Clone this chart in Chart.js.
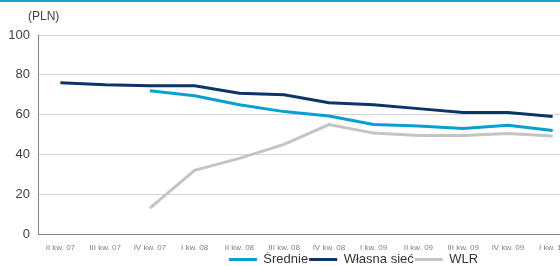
<!DOCTYPE html>
<html>
<head>
<meta charset="utf-8">
<script src="https://cdn.jsdelivr.net/npm/chart.js@4"></script>
<style>
  html, body { margin: 0; padding: 0; background: #fff; overflow: hidden; width: 560px; height: 266px; }
  #topline { position: absolute; left: 0; top: 0; width: 560px; height: 2px; background: #1aa3d4; }
  #wrap { position: absolute; left: 0; top: 0; width: 600px; height: 266px; }
</style>
</head>
<body>
<div id="wrap"><canvas id="chart" width="600" height="266"></canvas></div>
<div id="topline"></div>
<script>
// quarters on the x axis
const quarters = ['II kw. 07', 'III kw. 07', 'IV kw. 07', 'I kw. 08', 'II kw. 08', 'III kw. 08',
  'IV kw. 08', 'I kw. 09', 'II kw. 09', 'III kw. 09', 'IV kw. 09', 'I kw. 10'];

// values in PLN
const srednie = [null, null, 72, 69.5, 65, 61.5, 59.3, 55, 54.3, 53, 54.7, 52];
const wlasnaSiec = [76, 75, 74.5, 74.5, 70.7, 70, 66, 65, 63, 61, 61, 59];
const wlr = [null, null, 13, 32, 38, 45, 55, 50.7, 49.5, 49.5, 50.5, 49.3];

const yTicks = [0, 20, 40, 60, 80, 100];

const FONT = '"Liberation Sans", Arial, sans-serif';

// "(PLN)" unit label above the y axis
const unitLabel = {
  id: 'unitLabel',
  afterDraw(chart) {
    const ctx = chart.ctx;
    ctx.save();
    ctx.font = '12px ' + FONT;
    ctx.fillStyle = '#404040';
    ctx.textAlign = 'left';
    ctx.textBaseline = 'middle';
    ctx.fillText('(PLN)', 28, 17);
    ctx.restore();
  }
};

// legend in the original sits right of the page centre and a bit lower;
// the x labels hang below the (squeezed) axis box, so widen its clip
const shiftLegend = {
  id: 'shiftLegend',
  afterLayout(chart) {
    const lg = chart.legend;
    lg.left += 66;
    lg.right += 66;
    lg.top += 10;
    lg.bottom += 10;
    chart.scales.x.bottom = chart.height;
  }
};

function line(label, data, color) {
  return {
    label: label,
    data: data,
    borderColor: color,
    backgroundColor: color,
    borderWidth: 3,
    pointRadius: 0,
    tension: 0,
    spanGaps: false
  };
}

new Chart(document.getElementById('chart').getContext('2d'), {
  type: 'line',
  data: {
    labels: quarters,
    datasets: [
      line('Średnie', srednie, '#0a9fd0'),
      line('Własna sieć', wlasnaSiec, '#0b3566'),
      line('WLR', wlr, '#c4c4c4')
    ]
  },
  options: {
    responsive: false,
    animation: false,
    layout: { padding: { top: 35, right: 25, left: 0, bottom: 0 } },
    plugins: {
      legend: {
        position: 'bottom',
        align: 'center',
        labels: {
          boxWidth: 28,
          boxHeight: 3,
          padding: 1,
          color: '#333',
          font: { family: FONT, size: 13 },
          generateLabels(chart) {
            return Chart.defaults.plugins.legend.labels.generateLabels(chart)
              .map(l => Object.assign(l, { lineWidth: 0 }));
          }
        }
      },
      title: { display: false },
      tooltip: { enabled: false }
    },
    scales: {
      x: {
        offset: true,
        grid: { display: false, drawTicks: false },
        border: { color: '#808080', width: 1 },
        ticks: {
          color: '#808080',
          font: { family: FONT, size: 8 },
          maxRotation: 0,
          autoSkip: false,
          padding: 9
        },
        afterFit: s => { s.height = 8; }
      },
      y: {
        min: 0,
        max: 100,
        afterBuildTicks: s => { s.ticks = yTicks.map(v => ({ value: v })); },
        grid: { color: '#d4d4d4', drawTicks: false },
        border: { color: '#808080', width: 1 },
        ticks: {
          color: '#404040',
          font: { family: FONT, size: 13 },
          padding: 8
        },
        afterFit: s => { s.width = 38; }
      }
    }
  },
  plugins: [unitLabel, shiftLegend]
});
</script>
</body>
</html>
